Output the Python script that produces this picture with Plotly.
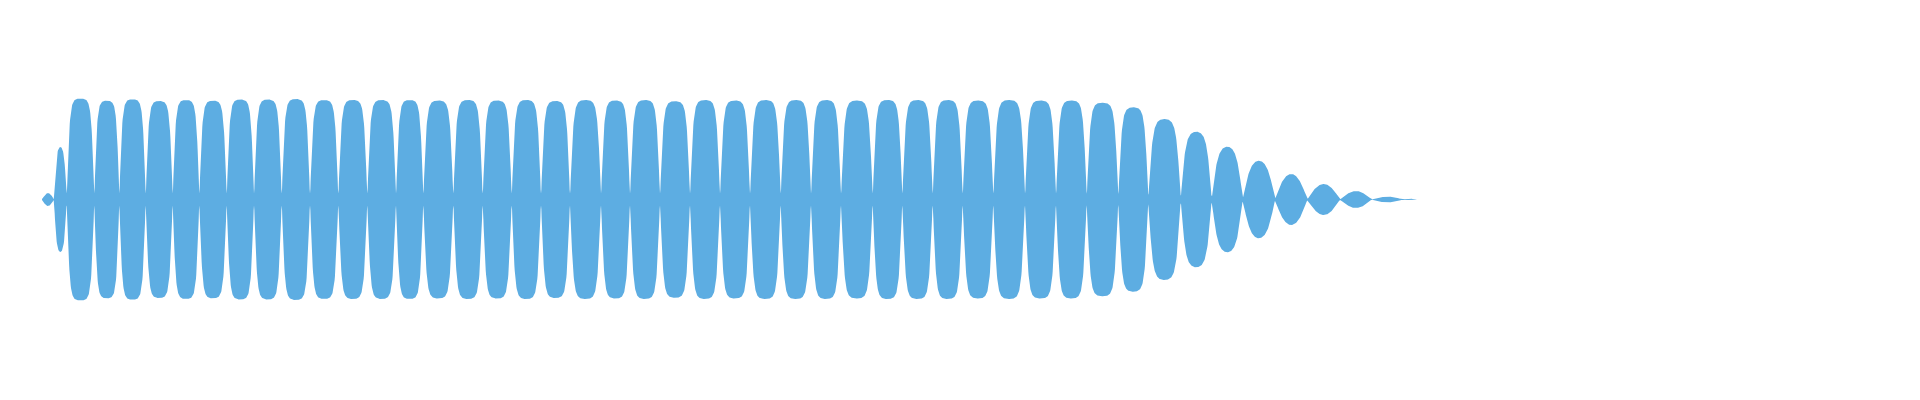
import numpy as np
import plotly.graph_objects as go

# Lobe boundaries (time axis, sample units)
lobe_edges = [42, 54, 66.7, 94.3, 119.3, 145.7, 172.7, 199.3, 226.7, 254, 281.7,
              310, 338.3, 367.3, 396, 423.3, 453.3, 482.7, 511.7, 541, 570, 601,
              630, 660, 690, 720, 750, 780.7, 811, 841, 872.7, 902.3, 932.7, 962.7,
              993.3, 1025, 1056, 1086.7, 1118.3, 1148.3, 1180.7, 1211.7, 1242.7,
              1275, 1307.3, 1340, 1371.7, 1403, 1417]

# Peak amplitude of each lobe (percent of full scale)
lobe_peaks = [6.5, 52.5, 101, 98.8, 100.2, 98.5, 99.5, 98.8, 100, 100, 100.5, 99.5,
              99.5, 99.5, 99.5, 99, 99.5, 99, 99.5, 98.5, 99.5, 99, 99.5, 98.3, 99.5,
              99, 99.5, 99.5, 99.5, 99, 99.5, 99.5, 99.5, 99, 99.5, 99, 99, 96.8,
              92.2, 80.5, 67.8, 52.8, 38.8, 25.5, 15.5, 8.5, 2.8, 0.7]

WAVE_COLOR = "#5DADE2"
DRIVE = 2.8     # soft-clip drive at full scale (rounds the lobe tops)
FLOOR = 0.06    # residual band at zero crossings (relative to lobe peak)
PX_OFF = 8      # compensate the page's body margin

xs, ys = [], []
for a, b, amp in zip(lobe_edges[:-1], lobe_edges[1:], lobe_peaks):
    n = max(int((b - a) * 3), 12)
    t = np.linspace(a, b, n, endpoint=False)
    u = (t - a) / (b - a)
    d = max(DRIVE * amp / 100.0, 1e-3)
    shape = amp * np.tanh(d * np.sin(np.pi * u)) / np.tanh(d)
    env = np.maximum(FLOOR * amp, shape)
    xs.extend(t.tolist())
    ys.extend(env.tolist())
xs.append(lobe_edges[-1])
ys.append(0.0)

xs = np.array(xs)
ys = np.array(ys)
poly_x = np.concatenate([xs, xs[::-1]])
poly_y = np.concatenate([ys, -ys[::-1]])

fig = go.Figure()
fig.add_trace(go.Scatter(
    x=poly_x, y=poly_y, mode="lines", fill="toself",
    fillcolor=WAVE_COLOR, line=dict(width=0, color=WAVE_COLOR),
    hoverinfo="skip", showlegend=False,
))
fig.update_layout(
    width=1920, height=400,
    margin=dict(l=0, r=0, t=0, b=0),
    paper_bgcolor="white", plot_bgcolor="white",
    xaxis=dict(range=[PX_OFF, 1920 + PX_OFF], visible=False, showgrid=False, zeroline=False),
    yaxis=dict(range=[-200.5 - PX_OFF, 199.5 - PX_OFF], visible=False, showgrid=False, zeroline=False),
    hovermode=False,
)
fig.write_html("out.html", config={"displayModeBar": False})
